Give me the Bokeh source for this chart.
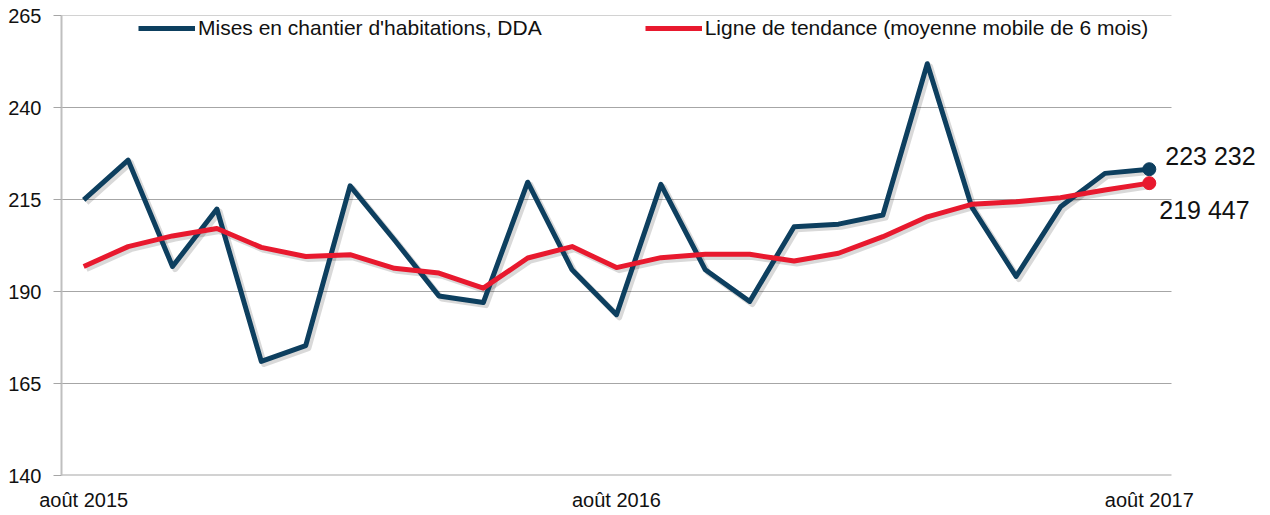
from bokeh.plotting import figure
from bokeh.models import (Range1d, FixedTicker, Legend, LegendItem, ColumnDataSource, Label)
from bokeh.transform import dodge
from bokeh.embed import file_html
from bokeh.resources import INLINE

# ---- data -------------------------------------------------------------
months = ["août 2015", "sept. 2015", "oct. 2015", "nov. 2015", "déc. 2015",
          "janv. 2016", "févr. 2016", "mars 2016", "avr. 2016", "mai 2016",
          "juin 2016", "juil. 2016", "août 2016", "sept. 2016", "oct. 2016",
          "nov. 2016", "déc. 2016", "janv. 2017", "févr. 2017", "mars 2017",
          "avr. 2017", "mai 2017", "juin 2017", "juil. 2017", "août 2017"]
starts = [214.9, 225.7, 196.8, 212.4, 171.0, 175.3, 218.7, 204.0, 188.8, 187.0,
          219.7, 195.9, 183.7, 219.1, 195.9, 187.3, 207.6, 208.3, 210.8, 251.9,
          213.0, 194.1, 213.0, 222.1, 223.232]
trend = [196.8, 202.2, 205.1, 207.1, 202.0, 199.5, 200.0, 196.3, 195.0, 190.9,
         199.1, 202.2, 196.5, 199.2, 200.1, 200.1, 198.3, 200.4, 204.9, 210.3,
         213.7, 214.4, 215.5, 217.6, 219.447]
label_months = ["août 2015", "août 2016", "août 2017"]
y_ticks = [140, 165, 190, 215, 240, 265]
series_names = ["Mises en chantier d'habitations, DDA",
                "Ligne de tendance (moyenne mobile de 6 mois)"]

BLUE = "#0D3F5F"
RED = "#E8192E"
FONT = "Liberation Sans"

n = len(months)
idx = list(range(n))
src = ColumnDataSource(dict(x=idx, starts=starts, trend=trend))

# plot area: categories occupy 1110 px; extra room on the right for end labels
PX_PER_CAT = 1110 / n
FRAME_W = 1209
x_end = -0.5 + FRAME_W / PX_PER_CAT

p = figure(frame_width=FRAME_W, frame_height=460, output_backend="svg",
           toolbar_location=None,
           x_range=Range1d(-0.5, x_end), y_range=Range1d(140, 265),
           min_border_left=61, min_border_right=0, min_border_top=15,
           min_border_bottom=38)
p.outline_line_color = None
p.background_fill_color = "white"
p.border_fill_color = "white"

# grid drawn as segments spanning the category area only
p.xgrid.grid_line_color = None
p.ygrid.grid_line_color = None
grid_src = ColumnDataSource(dict(
    x0=[-0.5] * len(y_ticks), x1=[n - 0.5] * len(y_ticks), y=y_ticks,
    w=[2 if t == y_ticks[0] else 1 for t in y_ticks]))
p.segment(x0="x0", y0="y", x1="x1", y1="y", source=grid_src,
          line_color="#A6A6A6", line_width="w")

# y axis
p.yaxis.ticker = FixedTicker(ticks=y_ticks)
p.yaxis.axis_line_color = "#BFBFBF"
p.yaxis.axis_line_width = 2
p.yaxis.major_tick_line_color = "#A6A6A6"
p.yaxis.major_tick_out = 8
p.yaxis.major_tick_in = 0
p.yaxis.minor_tick_line_color = None
p.yaxis.major_label_standoff = 12
p.yaxis.major_label_text_font = FONT
p.yaxis.major_label_text_font_size = "20px"
p.yaxis.major_label_text_color = "#111111"

# x axis
tick_pos = [months.index(m) for m in label_months]
p.xaxis.ticker = FixedTicker(ticks=tick_pos)
p.xaxis.major_label_overrides = {i: months[i] for i in tick_pos}
p.xaxis.axis_line_color = None
p.xaxis.major_tick_line_color = None
p.xaxis.major_tick_out = 0
p.xaxis.major_tick_in = 0
p.xaxis.minor_tick_line_color = None
p.xaxis.major_label_standoff = 13
p.xaxis.major_label_text_font = FONT
p.xaxis.major_label_text_font_size = "20px"
p.xaxis.major_label_text_color = "#111111"

# shadows
for col in ("starts", "trend"):
    p.line(x=dodge("x", 0.06), y=dodge(col, -0.7), source=src,
           line_color="#000000", line_alpha=0.15, line_width=6,
           line_join="round")

# lines
l1 = p.line(x="x", y="starts", source=src, line_color=BLUE, line_width=5,
            line_join="round")
l2 = p.line(x="x", y="trend", source=src, line_color=RED, line_width=5,
            line_join="round")

# end markers and labels
last = n - 1
end_src = ColumnDataSource(dict(x=[idx[last], idx[last]],
                                y=[starts[last], trend[last]],
                                c=[BLUE, RED]))
p.scatter(x="x", y="y", source=end_src, size=13, color="c")


def fmt(v):
    return f"{round(v * 1000):,}".replace(",", " ")


p.add_layout(Label(x=idx[last], y=starts[last], text=fmt(starts[last]),
                   x_offset=16, y_offset=13, text_baseline="middle",
                   text_align="left", text_font_size="25px",
                   text_color="#111111", text_font=FONT))
p.add_layout(Label(x=idx[last], y=trend[last], text=fmt(trend[last]),
                   x_offset=10, y_offset=-27, text_baseline="middle",
                   text_align="left", text_font_size="25px",
                   text_color="#111111", text_font=FONT))

legend = Legend(items=[LegendItem(label=series_names[0], renderers=[l1]),
                       LegendItem(label=series_names[1], renderers=[l2])],
                orientation="horizontal", location=(77, 435),
                padding=0, spacing=103, glyph_width=57, label_standoff=3,
                label_text_font=FONT, label_text_font_size="21px",
                label_text_color="#111111",
                background_fill_alpha=0, border_line_color=None)
p.add_layout(legend, "center")

open("out.html", "w").write(file_html(p, INLINE))
